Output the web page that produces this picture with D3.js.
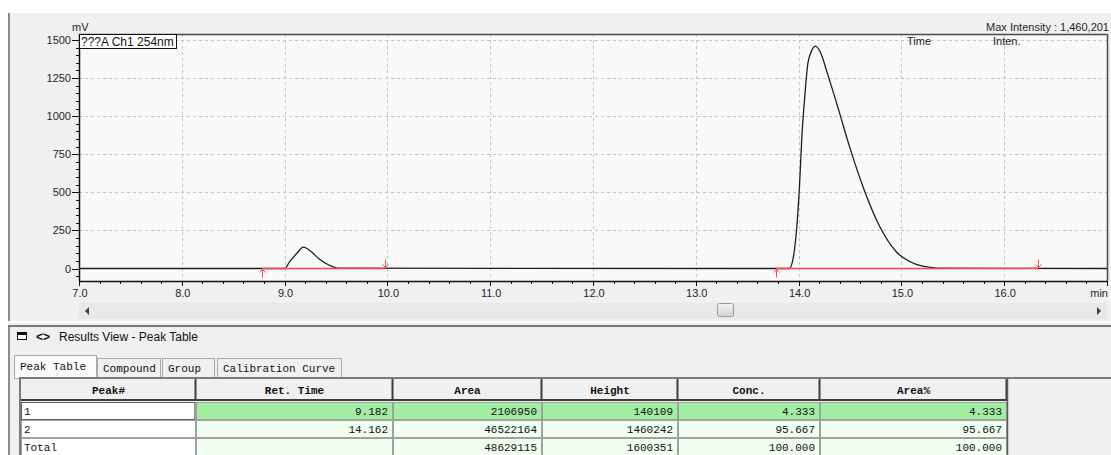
<!DOCTYPE html>
<html>
<head>
<meta charset="utf-8">
<script src="https://cdn.jsdelivr.net/npm/d3@7"></script>
<style>
  html, body { margin: 0; padding: 0; background: #ffffff; }
  svg { display: block; }
</style>
</head>
<body>
<svg id="chart" width="1111" height="455"></svg>
<script>
// Chromatogram trace (time in min, signal in mV)
const traceTime = [7.0, 9.00, 9.05, 9.12, 9.182, 9.26, 9.34, 9.43, 9.53,
  13.91, 13.95, 13.98, 14.01, 14.03, 14.06, 14.09, 14.13, 14.162, 14.21, 14.28,
  14.39, 14.50, 14.65, 14.79, 14.95, 15.12, 15.28, 15.42, 17.0];
const traceMv = [0, 0, 45, 100, 140.1, 110, 60, 23, 2,
  0, 78, 253, 559, 844, 1128, 1347, 1434, 1460.2, 1423, 1281,
  1040, 790, 494, 274, 110, 34, 8, 2, 0];

// Integration baselines: start / end of each peak (min)
const peakStart = [8.78, 13.78];
const peakEnd = [9.98, 16.33];

// Axis ticks
const yTicks = [0, 250, 500, 750, 1000, 1250, 1500];
const xTicks = [7, 8, 9, 10, 11, 12, 13, 14, 15, 16];

// Peak table
const tableColumns = ["Peak#", "Ret. Time", "Area", "Height", "Conc.", "Area%"];
const peakNo = ["1", "2", "Total"];
const retTime = ["9.182", "14.162", ""];
const area = ["2106950", "46522164", "48629115"];
const height = ["140109", "1460242", "1600351"];
const conc = ["4.333", "95.667", "100.000"];
const areaPct = ["4.333", "95.667", "100.000"];
const tabs = ["Peak Table", "Compound", "Group", "Calibration Curve"];

const svg = d3.select("#chart");
const SANS = "'Liberation Sans', Arial, sans-serif";
const MONO = "'Liberation Mono', 'DejaVu Sans Mono', monospace";
const textCol = "#262626";

// ---- window background ----
svg.append("rect").attr("x", 0).attr("y", 0).attr("width", 1111).attr("height", 455).attr("fill", "#ffffff");
svg.append("rect").attr("x", 8).attr("y", 13).attr("width", 1103).attr("height", 442).attr("fill", "#f0f0f0");
svg.append("rect").attr("x", 8).attr("y", 13).attr("width", 2).attr("height", 309).attr("fill", "#8c8c8c");

// ---- chart scales ----
const L = 79, R = 1107, T = 34, B = 281;
const x = d3.scaleLinear().domain([7, 17]).range([L, R]);
const y = d3.scaleLinear().domain([0, 1500]).range([268.5, 40]);

svg.append("rect").attr("x", L).attr("y", T).attr("width", R - L).attr("height", B - T).attr("fill", "#f9f9f9");

// grid
const grid = svg.append("g").attr("stroke", "#c4c4c4").attr("stroke-dasharray", "3,3").attr("stroke-width", 1);
grid.selectAll("line.h").data(yTicks.filter(d => d > 0)).join("line")
  .attr("x1", L).attr("x2", R).attr("y1", d => Math.round(y(d)) + 0.5).attr("y2", d => Math.round(y(d)) + 0.5);
grid.selectAll("line.v").data(xTicks.filter(d => d > 7)).join("line")
  .attr("y1", T).attr("y2", B).attr("x1", d => Math.round(x(d)) + 0.5).attr("x2", d => Math.round(x(d)) + 0.5);

// plot frame (top/right)
svg.append("line").attr("x1", L).attr("x2", R).attr("y1", T + 0.5).attr("y2", T + 0.5).attr("stroke", "#4a4a4a").attr("stroke-width", 1.5);
svg.append("line").attr("x1", R + 0.5).attr("x2", R + 0.5).attr("y1", T).attr("y2", B).attr("stroke", "#4a4a4a").attr("stroke-width", 1.5);

// y axis
const yAxis = svg.append("g").attr("transform", `translate(${L},0)`);
yAxis.append("line").attr("x1", 0.5).attr("x2", 0.5).attr("y1", T).attr("y2", B).attr("stroke", "#111").attr("stroke-width", 1.5);
const yMinor = d3.range(-50, 1501, 50);
yAxis.selectAll("line.ym").data(yMinor).join("line")
  .attr("x1", d => (d % 250 === 0 ? -7 : -3)).attr("x2", 0)
  .attr("y1", d => Math.round(y(d)) + 0.5).attr("y2", d => Math.round(y(d)) + 0.5)
  .attr("stroke", "#111").attr("stroke-width", 1);
yAxis.selectAll("text").data(yTicks).join("text")
  .attr("x", -8).attr("y", d => y(d) + 4).attr("text-anchor", "end")
  .attr("font-family", SANS).attr("font-size", 11).attr("fill", textCol).text(d => d);
svg.append("text").attr("x", 72).attr("y", 31).attr("font-family", SANS).attr("font-size", 11).attr("fill", textCol).text("mV");

// x axis
const xAxis = svg.append("g").attr("transform", `translate(0,${B})`);
xAxis.append("line").attr("x1", L).attr("x2", R).attr("y1", 0.5).attr("y2", 0.5).attr("stroke", "#111").attr("stroke-width", 1.5);
const xMinor = d3.range(0, 51).map(i => 7 + i * 0.2);
xAxis.selectAll("line.xm").data(xMinor).join("line")
  .attr("x1", d => Math.round(x(d)) + 0.5).attr("x2", d => Math.round(x(d)) + 0.5)
  .attr("y1", 0).attr("y2", (d, i) => (i % 5 === 0 ? 5 : 3))
  .attr("stroke", "#111").attr("stroke-width", 1);
xAxis.selectAll("text").data(xTicks).join("text")
  .attr("x", d => x(d) + 1).attr("y", 16).attr("text-anchor", "middle")
  .attr("font-family", SANS).attr("font-size", 11).attr("fill", textCol).text(d => d3.format(".1f")(d));
xAxis.append("text").attr("x", R + 1).attr("y", 16).attr("text-anchor", "end")
  .attr("font-family", SANS).attr("font-size", 11).attr("fill", textCol).text("min");

// chromatogram trace
const line = d3.line().x((d, i) => x(traceTime[i])).y(d => y(d)).curve(d3.curveMonotoneX);
svg.append("path").attr("d", line(traceMv)).attr("fill", "none").attr("stroke", "#1e1e1e").attr("stroke-width", 1.3);

// integration baselines and markers
const red = "#ff4a4a";
const base = svg.append("g").attr("stroke", red).attr("fill", "none");
base.selectAll("line.bl").data(peakStart).join("line")
  .attr("x1", d => x(d)).attr("x2", (d, i) => x(peakEnd[i]))
  .attr("y1", y(0)).attr("y2", y(0)).attr("stroke-width", 1.6);
base.selectAll("path.up").data(peakStart).join("path")
  .attr("d", d => { const cx = Math.round(x(d)) + 0.5, y0 = y(0) + 1; return `M${cx},${y0}V${y0 + 8}M${cx - 3},${y0 + 3}L${cx},${y0}L${cx + 3},${y0 + 3}`; })
  .attr("stroke-width", 1);
base.selectAll("path.dn").data(peakEnd).join("path")
  .attr("d", d => { const cx = Math.round(x(d)) + 0.5, y0 = y(0) - 1; return `M${cx},${y0}V${y0 - 8}M${cx - 3},${y0 - 3}L${cx},${y0}L${cx + 3},${y0 - 3}`; })
  .attr("stroke-width", 1);

// channel label box and header texts
svg.append("rect").attr("x", L + 0.5).attr("y", T + 0.5).attr("width", 97).attr("height", 14).attr("fill", "#ffffff").attr("stroke", "#111");
svg.append("text").attr("x", L + 2).attr("y", T + 12).attr("font-family", SANS).attr("font-size", 12).attr("fill", "#111").text("???A Ch1 254nm");
svg.append("text").attr("x", 1109).attr("y", 31).attr("text-anchor", "end").attr("font-family", SANS).attr("font-size", 11).attr("fill", textCol).text("Max Intensity : 1,460,201");
svg.append("text").attr("x", 907).attr("y", 45).attr("font-family", SANS).attr("font-size", 11).attr("fill", textCol).text("Time");
svg.append("text").attr("x", 993).attr("y", 45).attr("font-family", SANS).attr("font-size", 11).attr("fill", textCol).text("Inten.");

// horizontal scrollbar
svg.append("rect").attr("x", L).attr("y", 303).attr("width", R - L).attr("height", 16).attr("fill", "#e8e8e8");
svg.append("path").attr("d", "M89,307L85,311L89,315Z").attr("fill", "#404040");
svg.append("path").attr("d", "M1097,307L1101,311L1097,315Z").attr("fill", "#404040");
const grad = svg.append("defs").append("linearGradient").attr("id", "thumb").attr("x1", 0).attr("x2", 0).attr("y1", 0).attr("y2", 1);
grad.append("stop").attr("offset", "0%").attr("stop-color", "#f4f4f4");
grad.append("stop").attr("offset", "100%").attr("stop-color", "#d2d2d2");
svg.append("rect").attr("x", 717.5).attr("y", 303.5).attr("width", 16).attr("height", 13).attr("rx", 2)
  .attr("fill", "url(#thumb)").attr("stroke", "#9a9a9a");

// panel separator
svg.append("rect").attr("x", 8).attr("y", 321).attr("width", 1103).attr("height", 2).attr("fill", "#ffffff");
svg.append("rect").attr("x", 8).attr("y", 325).attr("width", 1103).attr("height", 2).attr("fill", "#7a7a7a");
svg.append("rect").attr("x", 8).attr("y", 327).attr("width", 2).attr("height", 128).attr("fill", "#8c8c8c");

// results view header
svg.append("rect").attr("x", 17.5).attr("y", 332.5).attr("width", 9).attr("height", 7).attr("fill", "#ffffff").attr("stroke", "#111");
svg.append("rect").attr("x", 17).attr("y", 332).attr("width", 10).attr("height", 3).attr("fill", "#111");
svg.append("text").attr("x", 36).attr("y", 341).attr("font-family", SANS).attr("font-size", 12).attr("font-weight", "bold").attr("fill", "#111").text("<>");
svg.append("text").attr("x", 59).attr("y", 341).attr("font-family", SANS).attr("font-size", 12).attr("fill", "#111").text("Results View - Peak Table");

// tabs
const tabX = [14, 97, 162, 217];
const tabW = [83, 64, 53, 125];
const tabG = svg.append("g");
tabs.forEach((t, i) => {
  const active = i === 0;
  tabG.append("rect").attr("x", tabX[i] + 0.5).attr("y", active ? 355.5 : 358.5)
    .attr("width", tabW[i] - 1).attr("height", active ? 23 : 20)
    .attr("fill", active ? "#fbfbfb" : "#f0f0f0").attr("stroke", "#a8a8a8");
  tabG.append("text").attr("x", tabX[i] + 6).attr("y", active ? 370 : 372)
    .attr("font-family", MONO).attr("font-size", 11).attr("fill", "#111").text(t);
});

// table frame
svg.append("rect").attr("x", 19).attr("y", 377).attr("width", 1092).attr("height", 2).attr("fill", "#7a7a7a");
svg.append("rect").attr("x", 19).attr("y", 377).attr("width", 2).attr("height", 78).attr("fill", "#7a7a7a");

const colEdges = [21, 196, 393, 542, 678, 820, 1007];
const headTop = 379, headH = 22, rowTop = 402, rowH = 18;
const tbl = svg.append("g");

// header
tableColumns.forEach((c, i) => {
  tbl.append("rect").attr("x", colEdges[i]).attr("y", headTop).attr("width", colEdges[i + 1] - colEdges[i]).attr("height", headH).attr("fill", "#f0f0f0");
  tbl.append("text").attr("x", (colEdges[i] + colEdges[i + 1]) / 2).attr("y", headTop + 15).attr("text-anchor", "middle")
    .attr("font-family", MONO).attr("font-size", 11).attr("font-weight", "bold").attr("fill", "#111").text(c);
});
tbl.selectAll("line.hs").data(colEdges.slice(1)).join("line")
  .attr("x1", d => d - 0.5).attr("x2", d => d - 0.5).attr("y1", headTop).attr("y2", headTop + headH)
  .attr("stroke", "#3c3c3c").attr("stroke-width", 2);
tbl.append("rect").attr("x", 21).attr("y", headTop + headH - 2).attr("width", 986).attr("height", 2).attr("fill", "#3c3c3c");

// body rows
const rows = peakNo.map((p, i) => [p, retTime[i], area[i], height[i], conc[i], areaPct[i]]);
rows.forEach((r, ri) => {
  const yTop = rowTop + ri * rowH;
  r.forEach((v, ci) => {
    let fill = ci === 0 ? "#ffffff" : (ri === 0 ? "#a2eea2" : "#f0fff0");
    tbl.append("rect").attr("x", colEdges[ci] + 0.5).attr("y", yTop + 0.5)
      .attr("width", colEdges[ci + 1] - colEdges[ci] - 1).attr("height", rowH - 1)
      .attr("fill", fill).attr("stroke", "#a0a0a0");
    tbl.append("text")
      .attr("x", ci === 0 ? colEdges[ci] + 3 : colEdges[ci + 1] - 5)
      .attr("y", yTop + 13).attr("text-anchor", ci === 0 ? "start" : "end")
      .attr("font-family", MONO).attr("font-size", 11).attr("fill", "#111").text(v);
  });
});
// focus outline on the first row label
tbl.append("rect").attr("x", 21.5).attr("y", rowTop + 0.5).attr("width", 173).attr("height", rowH - 1)
  .attr("fill", "none").attr("stroke", "#222").attr("stroke-dasharray", "1,1");
// right edge of the grid
tbl.append("line").attr("x1", 1007.5).attr("x2", 1007.5).attr("y1", headTop).attr("y2", 455).attr("stroke", "#5a5a5a").attr("stroke-width", 1.5);
</script>
</body>
</html>
